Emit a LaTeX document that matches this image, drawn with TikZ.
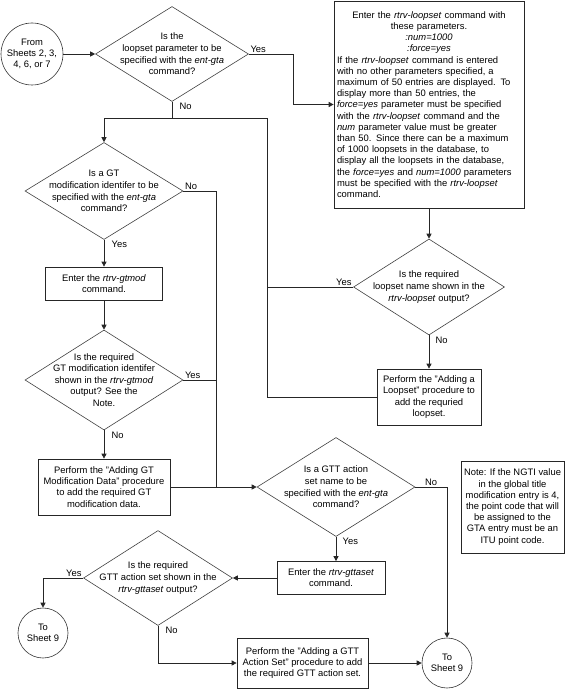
\documentclass[tikz,border=0pt]{standalone}
\usepackage{fontspec}
\setmainfont{Liberation Sans}
\usetikzlibrary{
    shapes.geometric,
    arrows.meta,
    positioning
}
\tikzset{
    proc/.style={draw=black!85, line width=0.7pt, fill=white, align=center, inner sep=2pt, font=\fontsize{9.4}{11.2}\selectfont},
    decision/.style={diamond, draw=black!75, line width=0.6pt, align=center, inner xsep=-30pt, inner ysep=-20pt, font=\fontsize{9.4}{11.6}\selectfont},
    sheet/.style={circle, draw=black!80, line width=0.6pt, align=center, inner sep=0pt, font=\fontsize{9.4}{11.2}\selectfont},
    lbl/.style={inner sep=1.5pt, font=\fontsize{9.4}{11}\selectfont},
    line/.style={draw=black!85, line width=0.7pt},
    flow/.style={line, -{Triangle[length=5pt,width=5pt]}}
}

\begin{document}
\begin{tikzpicture}[x=1pt, y=-1pt]
                        \useasboundingbox (0,0) rectangle (565,690);
                        % loopset part
                        \node[sheet, minimum size=62pt] (fromsheets) at (32,54) {From\\Sheets 2, 3,\\4, 6, or 7};
                        \node[decision, minimum width=153pt, minimum height=95pt] (askloopset) at (172,54) {Is the\\loopset parameter to be\\specified with the \textit{ent-gta}\\command?};
                        \node[proc, minimum width=190pt, minimum height=207pt, text width=184pt, align=left] (rtrvloopset) at (429,104.5) {{\centering Enter the \textit{rtrv-loopset} command with\\these parameters.\\\textit{:num=1000}\\\textit{:force=yes}\par}If the \textit{rtrv-loopset} command is entered\\with no other parameters specified, a\\maximum of 50 entries are displayed. To\\display more than 50 entries, the\\\textit{force=yes} parameter must be specified\\with the \textit{rtrv-loopset} command and the\\\textit{num} parameter value must be greater\\than 50. Since there can be a maximum\\of 1000 loopsets in the database, to\\display all the loopsets in the database,\\the \textit{force=yes} and \textit{num=1000} parameters\\must be specified with the \textit{rtrv-loopset}\\command.};
                        \node[decision, minimum width=151pt, minimum height=96pt] (loopshown) at (429,287) {Is the required\\loopset name shown in the\\\textit{rtrv-loopset} output?};
                        \node[proc, minimum width=104pt, minimum height=56pt] (addloopset) at (429,397) {Perform the "Adding a\\Loopset" procedure to\\add the requried\\loopset.};
                        % GT modification part
                        \node[decision, minimum width=158pt, minimum height=97pt] (askgtmod) at (104,191) {Is a GT\\modification identifer to be\\specified with the \textit{ent-gta}\\command?};
                        \node[proc, minimum width=117pt, minimum height=33pt] (rtrvgtmod) at (104,283.5) {Enter the \textit{rtrv-gtmod}\\command.};
                        \node[decision, minimum width=158pt, minimum height=100pt] (gtmodshown) at (104,380) {Is the required\\GT modification identifer\\shown in the \textit{rtrv-gtmod}\\output? See the\\Note.};
                        \node[proc, minimum width=132pt, minimum height=56pt] (addgtmod) at (104,487) {Perform the "Adding GT\\Modification Data" procedure\\to add the required GT\\modification data.};
                        % GTT action set part
                        \node[decision, minimum width=158pt, minimum height=99pt] (askgttaset) at (336,487) {Is a GTT action\\set name to be\\specified with the \textit{ent-gta}\\command?};
                        \node[proc, minimum width=108pt, minimum height=33pt] (rtrvgttaset) at (331,578) {Enter the \textit{rtrv-gttaset}\\command.};
                        \node[decision, minimum width=149pt, minimum height=95pt] (gttasetshown) at (158,578) {Is the required\\GTT action set shown in the\\\textit{rtrv-gttaset} output?};
                        \node[proc, minimum width=131pt, minimum height=50pt] (addgttaset) at (302.5,663) {Perform the "Adding a GTT\\Action Set" procedure to add\\the required GTT action set.};
                        \node[sheet, minimum size=50pt] (tosheetA) at (43,633) {To\\Sheet 9};
                        \node[sheet, minimum size=50pt] (tosheetB) at (447,663) {To\\Sheet 9};
                        \node[proc, minimum width=103pt, minimum height=92pt] (note) at (512.5,507) {Note: If the NGTI value\\in the global title\\modification entry is 4,\\the point code that will\\be assigned to the\\GTA entry must be an\\ITU point code.};
                        \coordinate (mergeloop) at (267,118);
                        \coordinate (mergegtt) at (216,487);
                        % connectors
                        \draw[flow] (fromsheets) -- (askloopset);
                        \draw[flow] (askloopset.east) -- ++(45,0) |- (rtrvloopset.west);
                        \draw[flow] (rtrvloopset) -- (loopshown);
                        \draw[flow] (loopshown) -- (addloopset);
                        \draw[line] (addloopset.west) -| (mergeloop);
                        \draw[line] (loopshown.west) -- (loopshown.west -| mergeloop);
                        \draw[line] (askloopset.south) -- (askloopset.south |- mergeloop);
                        \draw[flow] (mergeloop) -| (askgtmod.north);
                        \draw[flow] (askgtmod) -- (rtrvgtmod);
                        \draw[flow] (rtrvgtmod) -- (gtmodshown);
                        \draw[flow] (gtmodshown) -- (addgtmod);
                        \draw[line] (askgtmod.east) -| (mergegtt);
                        \draw[line] (gtmodshown.east) -- (gtmodshown.east -| mergegtt);
                        \draw[flow] (addgtmod) -- (askgttaset);
                        \draw[flow] (askgttaset.east) -| (tosheetB.north);
                        \draw[flow] (askgttaset.south) -- (askgttaset.south |- rtrvgttaset.north);
                        \draw[flow] (rtrvgttaset) -- (gttasetshown);
                        \draw[flow] (gttasetshown.west) -| (tosheetA.north);
                        \draw[flow] (gttasetshown.south) |- (addgttaset.west);
                        \draw[flow] (addgttaset) -- (tosheetB);
                        % branch labels
                        \node[lbl, anchor=south west] (yes1) at (askloopset.east) {Yes};
                        \node[lbl, anchor=north west] (no1) at ([xshift=6pt]askloopset.south) {No};
                        \node[lbl, anchor=south east] (yes2) at (loopshown.west) {Yes};
                        \node[lbl, anchor=north west] (no2) at ([xshift=5pt]loopshown.south) {No};
                        \node[lbl, anchor=south west] (no3) at (askgtmod.east) {No};
                        \node[lbl, anchor=north west] (yes3) at ([xshift=6pt]askgtmod.south) {Yes};
                        \node[lbl, anchor=south west] (yes4) at (gtmodshown.east) {Yes};
                        \node[lbl, anchor=north west] (no4) at ([xshift=6pt]gtmodshown.south) {No};
                        \node[lbl, anchor=south west] (no5) at ([xshift=8pt]askgttaset.east) {No};
                        \node[lbl, anchor=north west] (yes5) at ([xshift=5pt]askgttaset.south) {Yes};
                        \node[lbl, anchor=south east] (yes6) at (gttasetshown.west) {Yes};
                        \node[lbl, anchor=north west] (no6) at ([xshift=6pt]gttasetshown.south) {No};
                    \end{tikzpicture}
\end{document}
